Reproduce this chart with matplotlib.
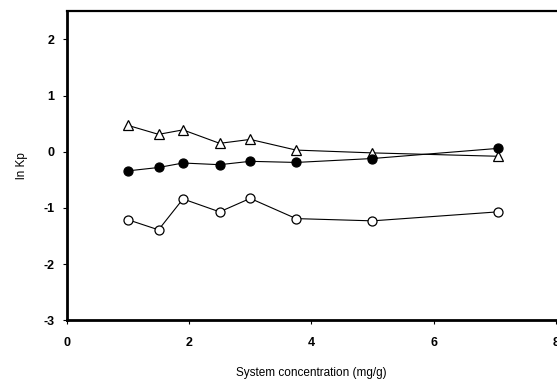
import matplotlib
matplotlib.use("Agg")
import matplotlib.pyplot as plt

plt.rcParams["font.family"] = ["Liberation Sans", "DejaVu Sans"]

# Data
CONC = [1.0, 1.5, 1.9, 2.5, 3.0, 3.75, 5.0, 7.05]
TRIANGLE = [0.47, 0.31, 0.39, 0.15, 0.22, 0.03, -0.02, -0.08]
FILLED = [-0.34, -0.28, -0.20, -0.23, -0.17, -0.19, -0.12, 0.06]
OPEN = [-1.21, -1.39, -0.84, -1.07, -0.83, -1.19, -1.23, -1.07]

XTICKS = [0, 2, 4, 6, 8]
YTICKS = [-3, -2, -1, 0, 1, 2]

fig = plt.figure(figsize=(5.57, 3.79), dpi=100)
ax = fig.add_axes([0.120, 0.155, 0.878, 0.815])

common = dict(color="black", linewidth=0.8, markersize=6.5, markeredgewidth=0.9, clip_on=False)
ax.plot(CONC, TRIANGLE, marker="^", markerfacecolor="white", **common)
ax.plot(CONC, FILLED, marker="o", markerfacecolor="black", **common)
ax.plot(CONC, OPEN, marker="o", markerfacecolor="white", **common)

ax.set_xlim(0, 8)
ax.set_ylim(-3, 2.5)
ax.set_xticks(XTICKS)
ax.set_yticks(YTICKS)
ax.set_xticklabels([str(v) for v in XTICKS], fontsize=9, fontweight="bold")
ax.set_yticklabels([str(v) for v in YTICKS], fontsize=9, fontweight="bold")
ax.tick_params(axis="x", direction="out", length=3, width=0.8, pad=9)
ax.tick_params(axis="y", direction="out", length=3, width=0.8, pad=6)

ax.spines["right"].set_visible(False)
ax.spines["left"].set_linewidth(2.0)
ax.spines["bottom"].set_linewidth(2.0)
ax.spines["top"].set_linewidth(1.6)

ax.set_xlabel("System concentration (mg/g)", fontsize=8.5, labelpad=13)
ax.set_ylabel("ln Kp", fontsize=8.5, labelpad=11)

fig.savefig("out.png", dpi=100, facecolor="white")
